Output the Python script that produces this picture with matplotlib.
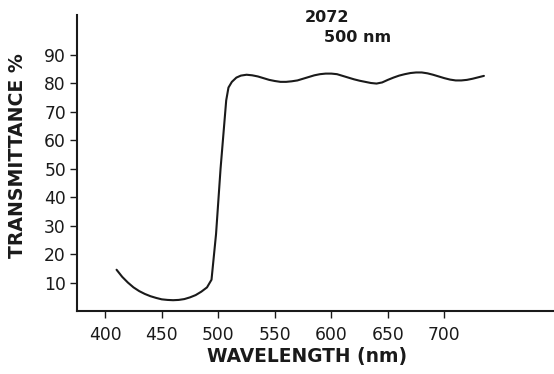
import matplotlib
matplotlib.use("Agg")
import matplotlib.pyplot as plt

wavelength = [410, 415, 420, 425, 430, 435, 440, 445, 450, 455, 460, 465, 470, 475,
              480, 485, 490, 494, 498, 502, 507, 509, 512, 516, 520, 525, 530, 535,
              540, 545, 550, 555, 560, 565, 570, 575, 580, 585, 590, 595, 600, 605,
              610, 615, 620, 625, 630, 635, 640, 645, 650, 655, 660, 665, 670, 675,
              680, 685, 690, 695, 700, 705, 710, 715, 720, 725, 730, 735]
transmittance = [14.5, 12.0, 10.0, 8.3, 7.0, 6.0, 5.2, 4.6, 4.1, 3.9, 3.8, 3.9, 4.2, 4.8,
                 5.6, 6.8, 8.3, 11.0, 27.0, 50.0, 74.0, 78.5, 80.5, 82.0, 82.7, 83.0, 82.8, 82.4,
                 81.8, 81.2, 80.8, 80.5, 80.5, 80.7, 81.0, 81.6, 82.2, 82.8, 83.2, 83.4, 83.4, 83.2,
                 82.6, 82.0, 81.4, 80.9, 80.5, 80.1, 79.9, 80.3, 81.2, 82.0, 82.7, 83.2, 83.6, 83.8,
                 83.8, 83.5, 83.0, 82.4, 81.8, 81.3, 81.0, 81.0, 81.2, 81.6, 82.1, 82.6]
x_ticks = [400, 450, 500, 550, 600, 650, 700]
y_ticks = [10, 20, 30, 40, 50, 60, 70, 80, 90]

plt.rcParams['font.family'] = ['DejaVu Sans']
fig = plt.figure(figsize=(5.54, 3.74), dpi=100)
ax = fig.add_axes([0.139, 0.1684, 0.861, 0.7916])
ax.plot(wavelength, transmittance, color='#1a1a1a', lw=1.5, solid_capstyle='round')
ax.set_xlim(375, 797)
ax.set_ylim(0, 104)
ax.set_xticks(x_ticks)
ax.set_yticks(y_ticks)
ax.tick_params(axis='both', labelsize=12.3, colors='#1a1a1a', length=5, width=1)
ax.tick_params(axis='x', pad=6)
ax.tick_params(axis='y', pad=3)
for s in ['top', 'right']:
    ax.spines[s].set_visible(False)
for s in ['left', 'bottom']:
    ax.spines[s].set_linewidth(1.5)
    ax.spines[s].set_color('#1a1a1a')
ax.set_xlabel('WAVELENGTH (nm)', fontsize=13.4, fontweight='bold', color='#1a1a1a', va='center')
ax.set_ylabel('TRANSMITTANCE %', fontsize=13.6, fontweight='bold', color='#1a1a1a', va='center')
ax.xaxis.set_label_coords(0.482, -0.155)
ax.yaxis.set_label_coords(-0.124, 0.524)
fig.text(327 / 554, 1 - 17 / 374, '2072', fontsize=11.5, fontweight='bold', ha='center', va='center', color='#1a1a1a')
fig.text(358 / 554, 1 - 38 / 374, '500 nm', fontsize=11.5, fontweight='bold', ha='center', va='center', color='#1a1a1a')
fig.savefig('out.png', dpi=100)
